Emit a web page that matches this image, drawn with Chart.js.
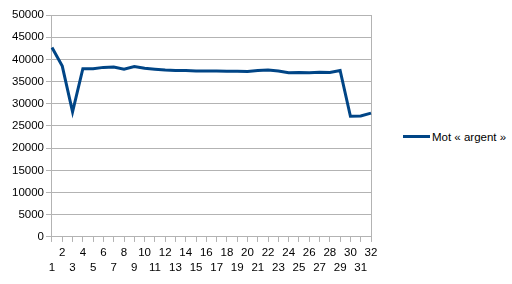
<!DOCTYPE html>
<html>
<head>
<meta charset="utf-8">
<script src="https://cdn.jsdelivr.net/npm/chart.js@4/dist/chart.umd.min.js"></script>
<style>
  html, body { margin: 0; padding: 0; background: #fff; }
  #wrap { width: 512px; height: 284px; position: relative; }
  #plot { position: absolute; left: 0; top: 0; width: 383px; height: 284px; }
  #legend { position: absolute; left: 403px; top: 131px; font: 11.5px 'Liberation Sans', Arial, sans-serif; color: #000; white-space: nowrap; }
  #legend .key { display: inline-block; width: 27px; height: 3px; vertical-align: middle; margin-right: 2px; position: relative; top: -1px; }
</style>
</head>
<body>
<div id="wrap">
  <div id="plot"><canvas id="mot-chart"></canvas></div>
  <div id="legend"></div>
</div>
<script>
const dayLabels = ["1","2","3","4","5","6","7","8","9","10","11","12","13","14","15","16",
  "17","18","19","20","21","22","23","24","25","26","27","28","29","30","31","32"];
const argentValues = [42700, 38500, 28200, 37900, 37900, 38200, 38300, 37800, 38400, 38000,
  37800, 37600, 37500, 37500, 37400, 37400, 37400, 37350, 37350, 37300,
  37500, 37600, 37400, 37000, 37050, 37000, 37100, 37050, 37500, 27200, 27250, 27900];
const seriesLabel = "Mot « argent »";
const yMin = 0;
const yMax = 50000;
const yStep = 5000;

const gridColor = "#b3b3b3";
const lineColor = "#004586";
const fontFamily = "'Liberation Sans', Arial, sans-serif";

const ctx = document.getElementById("mot-chart").getContext("2d");

const motChart = new Chart(ctx, {
  type: "line",
  data: {
    labels: dayLabels,
    datasets: [{
      label: seriesLabel,
      data: argentValues,
      borderColor: lineColor,
      backgroundColor: lineColor,
      borderWidth: 3,
      pointRadius: 0,
      tension: 0,
      fill: false
    }]
  },
  options: {
    responsive: true,
    maintainAspectRatio: false,
    animation: false,
    layout: {
      padding: { left: 10, top: 15, right: 4, bottom: 5 }
    },
    plugins: {
      legend: { display: false },
      tooltip: { enabled: false }
    },
    scales: {
      x: {
        offset: false,
        grid: {
          display: true,
          drawOnChartArea: false,
          drawTicks: true,
          tickLength: 5,
          color: gridColor
        },
        border: { display: true, color: gridColor },
        ticks: {
          autoSkip: false,
          maxRotation: 0,
          minRotation: 0,
          padding: 3,
          color: "#000",
          font: { family: fontFamily, size: 11.5, lineHeight: 1.35 },
          callback: function(value, index) {
            const l = this.getLabelForValue(value);
            return index % 2 === 0 ? ["", l] : [l];
          }
        }
      },
      y: {
        min: yMin,
        max: yMax,
        grid: {
          color: gridColor,
          drawTicks: true,
          tickLength: 6
        },
        border: { display: true, color: gridColor },
        ticks: {
          stepSize: yStep,
          padding: 2,
          color: "#000",
          font: { family: fontFamily, size: 11.5 },
          callback: (v) => String(v)
        }
      },
      y2: {
        position: "right",
        grid: { display: false },
        border: { display: true, color: gridColor },
        ticks: { display: false }
      }
    }
  }
});

// legend in html, from the dataset
const legendEl = document.getElementById("legend");
motChart.data.datasets.forEach(ds => {
  const key = document.createElement("span");
  key.className = "key";
  key.style.background = ds.borderColor;
  legendEl.appendChild(key);
  legendEl.appendChild(document.createTextNode(ds.label));
});
</script>
</body>
</html>
